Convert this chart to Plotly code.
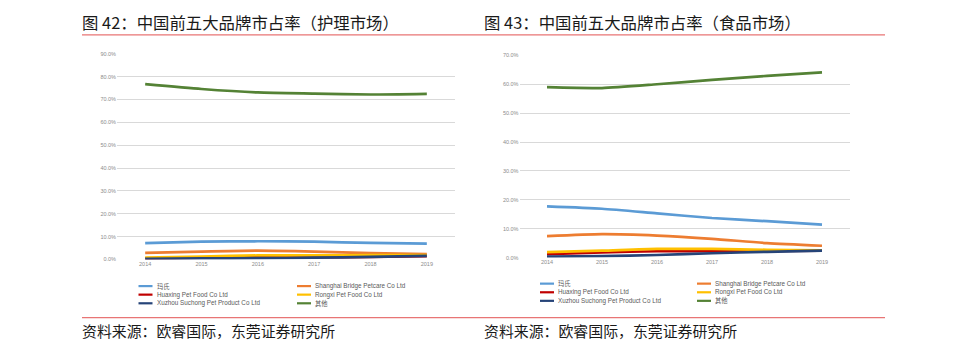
import plotly.graph_objects as go

years = ["2014", "2015", "2016", "2017", "2018", "2019"]
series_names = ["玛氏", "Shanghai Bridge Petcare Co Ltd", "Huaxing Pet Food Co Ltd",
                "Rongxi Pet Food Co Ltd", "Xuzhou Suchong Pet Product Co Ltd", "其他"]
series_colors = ["#5B9BD5", "#ED7D31", "#C00000", "#FFC000", "#264478", "#548235"]

# 护理市场 (%)
care_mars = [7.2, 7.8, 8.0, 7.8, 7.3, 7.0]
care_bridge = [2.9, 3.5, 3.9, 3.5, 2.8, 2.4]
care_huaxing = [0.5, 0.8, 1.0, 1.0, 1.2, 1.5]
care_rongxi = [0.9, 1.3, 1.8, 1.8, 1.9, 2.0]
care_xuzhou = [0.3, 0.5, 0.6, 0.8, 1.2, 1.6]
care_other = [76.7, 74.6, 73.1, 72.6, 72.2, 72.5]

# 食品市场 (%)
food_mars = [17.7, 16.9, 15.3, 13.7, 12.6, 11.4]
food_bridge = [7.4, 8.1, 7.6, 6.5, 5.0, 4.1]
food_huaxing = [1.2, 1.8, 2.2, 2.2, 2.3, 2.4]
food_rongxi = [1.9, 2.4, 3.0, 3.0, 2.7, 2.5]
food_xuzhou = [0.3, 0.5, 0.9, 1.5, 2.0, 2.4]
food_other = [59.0, 58.7, 60.0, 61.5, 62.9, 64.1]

care_series = [care_mars, care_bridge, care_huaxing, care_rongxi, care_xuzhou, care_other]
food_series = [food_mars, food_bridge, food_huaxing, food_rongxi, food_xuzhou, food_other]

left_title = "图 42：中国前五大品牌市占率（护理市场）"
right_title = "图 43：中国前五大品牌市占率（食品市场）"
source_text = "资料来源：欧睿国际，东莞证券研究所"

W, H = 974, 352
def fx(px):
    return px / W
def fy(py):
    return (H - py) / H

fig = go.Figure()
for i in range(6):
    fig.add_trace(go.Scatter(x=years, y=care_series[i], name=series_names[i], mode="lines",
                             line=dict(color=series_colors[i], width=2.7, shape="spline", smoothing=0.6),
                             xaxis="x", yaxis="y", showlegend=False, hoverinfo="skip"))
for i in range(6):
    fig.add_trace(go.Scatter(x=years, y=food_series[i], name=series_names[i], mode="lines",
                             line=dict(color=series_colors[i], width=2.7, shape="spline", smoothing=0.6),
                             xaxis="x2", yaxis="y2", showlegend=False, hoverinfo="skip"))

tickfont = dict(family="Liberation Sans, Arial", size=5.5, color="#8c8c8c")
axis_common = dict(showline=False, zeroline=False, ticks="", tickfont=tickfont, fixedrange=True)

fig.update_layout(
    width=W, height=H,
    margin=dict(l=0, r=0, t=0, b=0),
    paper_bgcolor="white", plot_bgcolor="white",
    font=dict(family="Noto Sans CJK SC"),
    showlegend=False,
    xaxis=dict(domain=[fx(117), fx(455)], anchor="y", type="category", range=[-0.5, 5.5],
               showgrid=False, **axis_common),
    yaxis=dict(domain=[fy(261), fy(51.7)], anchor="x", range=[0, 90], dtick=10,
               tickformat=".1f", ticksuffix="%", showgrid=True, gridcolor="#d9d9d9", gridwidth=1,
               **axis_common),
    xaxis2=dict(domain=[fx(519.5), fx(849.5)], anchor="y2", type="category", range=[-0.5, 5.5],
                showgrid=False, **axis_common),
    yaxis2=dict(domain=[fy(259), fy(53.3)], anchor="x2", range=[0, 70], dtick=10,
                tickformat=".1f", ticksuffix="%", showgrid=True, gridcolor="#d9d9d9", gridwidth=1,
                **axis_common),
)

# legends drawn as keys + text (two columns, three rows per chart)
leg_font = dict(family="Liberation Sans, Noto Sans CJK SC", size=6.3, color="#595959")
def add_legend(col_x, row_y):
    for i, name in enumerate(series_names):
        col, row = i % 2, i // 2
        x0 = col_x[col]
        y = row_y[row]
        fig.add_shape(type="line", xref="paper", yref="paper", x0=fx(x0), x1=fx(x0 + 14),
                      y0=fy(y), y1=fy(y), line=dict(color=series_colors[i], width=2.2))
        fig.add_annotation(text=name, x=fx(x0 + 16), y=fy(y), xref="paper", yref="paper",
                           xanchor="left", yanchor="middle", showarrow=False, font=leg_font)

add_legend([138.5, 297], [288, 296.7, 305.5])
add_legend([540, 697], [285.5, 294.3, 303])

title_font = dict(family="Noto Sans CJK SC", size=16.4, color="#1a1a1a")
fig.add_annotation(text=left_title, x=fx(80), y=fy(19.5), xref="paper", yref="paper",
                   xanchor="left", yanchor="middle", showarrow=False, font=title_font)
fig.add_annotation(text=right_title, x=fx(482), y=fy(19.5), xref="paper", yref="paper",
                   xanchor="left", yanchor="middle", showarrow=False, font=title_font)
src_font = dict(family="Noto Sans CJK SC", size=14.9, color="#1a1a1a")
fig.add_annotation(text=source_text, x=fx(80), y=fy(333), xref="paper", yref="paper",
                   xanchor="left", yanchor="middle", showarrow=False, font=src_font)
fig.add_annotation(text=source_text, x=fx(482), y=fy(333), xref="paper", yref="paper",
                   xanchor="left", yanchor="middle", showarrow=False, font=src_font)

for py in (32.5, 320):
    fig.add_shape(type="line", xref="paper", yref="paper", x0=fx(82), x1=fx(885),
                  y0=fy(py), y1=fy(py), line=dict(color="#e87575", width=1.2))

fig.write_html("out.html")
